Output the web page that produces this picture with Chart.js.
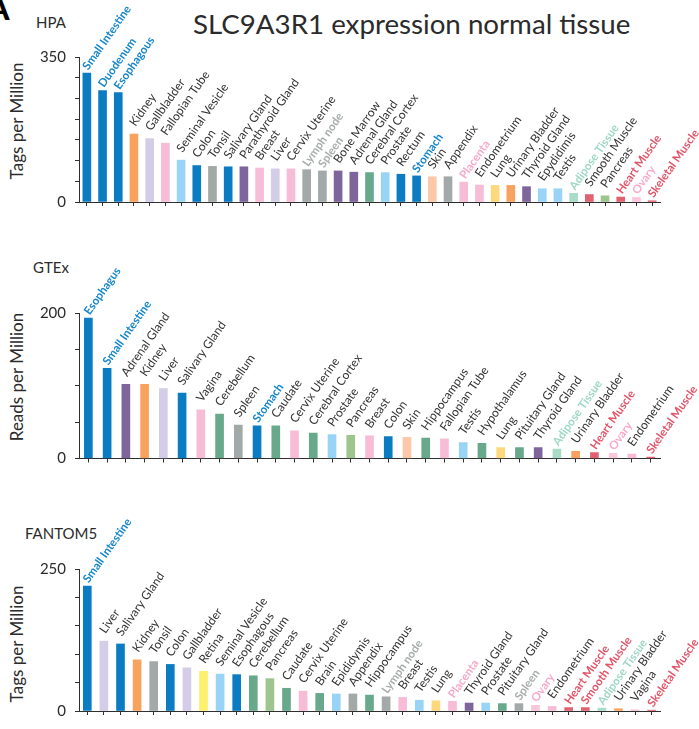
<!DOCTYPE html>
<html>
<head>
<meta charset="utf-8">
<script src="https://cdn.jsdelivr.net/npm/chart.js@4/dist/chart.umd.min.js"></script>
<style>
  html, body { margin: 0; padding: 0; background: #fff; }
  body { width: 699px; height: 729px; position: relative; overflow: hidden; font-family: Lato, "Open Sans", sans-serif; color: #2b2b2b; }
  canvas { position: absolute; left: 0; }
  .t { position: absolute; white-space: nowrap; }
  .ytitle { position: absolute; white-space: nowrap; font-size: 17px; line-height: 17px; transform: translate(-50%, -50%) rotate(-90deg); }
</style>
</head>
<body>
<div class="t" style="left:-14px;top:-10px;font-weight:700;font-size:34px;line-height:34px;color:#000;">A</div>
<div class="t" style="left:193px;top:10px;font-size:27.7px;line-height:28px;">SLC9A3R1 expression normal tissue</div>
<div class="t" style="left:36px;top:15px;font-size:15px;line-height:15px;">HPA</div>
<div class="t" style="left:33px;top:260px;font-size:15px;line-height:15px;">GTEx</div>
<div class="t" style="left:25px;top:526px;font-size:15px;line-height:15px;">FANTOM5</div>
<div class="ytitle" style="left:15.5px;top:121px;">Tags per Million</div>
<div class="ytitle" style="left:15.5px;top:377px;">Reads per Million</div>
<div class="ytitle" style="left:15.5px;top:644px;">Tags per Million</div>

<canvas id="hpa" width="699" height="240" style="top:0px;width:699px;height:240px;"></canvas>
<canvas id="gtex" width="699" height="240" style="top:245px;width:699px;height:240px;"></canvas>
<canvas id="fantom" width="699" height="239" style="top:490px;width:699px;height:239px;"></canvas>

<script>
// ---- HPA (tags per million) ----
const hpaTissues = ['Small Intestine','Duodenum','Esophagous','Kidney','Gallbladder','Fallopian Tube','Seminal Vesicle','Colon','Tonsil','Salivary Gland','Parathyroid Gland','Breast','Liver','Cervix Uterine','Lymph node','Spleen','Bone Marrow','Adrenal Gland','Cerebral Cortex','Prostate','Rectum','Stomach','Skin','Appendix','Placenta','Endometrium','Lung','Urinary Bladder','Thyroid Gland','Epydidimis','Testis','Adipose Tissue','Smooth Muscle','Pancreas','Heart Muscle','Ovary','Skeletal Muscle'];
const hpaValues = [311,269,264,164,153,142,101,88,86,85,85,82,80,80,78,75,75,72,71,71,67,63,61,61,48,41,40,40,37,32,32,21,18,15,12,11,3];
const hpaTickLabels = ['0','350'];

// ---- GTEx (reads per million) ----
const gtexTissues = ['Esophagus','Small Intestine','Adrenal Gland','Kidney','Liver','Salivary Gland','Vagina','Cerebellum','Spleen','Stomach','Caudate','Cervix Uterine','Cerebral Cortex','Prostate','Pancreas','Breast','Colon','Skin','Hippocampus','Fallopian Tube','Testis','Hypothalamus','Lung','Pituitary Gland','Thyroid Gland','Adipose Tissue','Urinary Bladder','Heart Muscle','Ovary','Endometrium','Skeletal Muscle'];
const gtexValues = [193,124,102,102,96,90,67,61,46,45,45,38,35,33,32,31,30,29,28,27,22,21,15,15,15,13,10,8,7,6,2];
const gtexTickLabels = ['0','200'];

// ---- FANTOM5 (tags per million) ----
const fantomTissues = ['Small Intestine','Liver','Salivary Gland','Kidney','Tonsil','Colon','Gallbladder','Retina','Seminal Vesicle','Esophagous','Cerebellum','Pancreas','Caudate','Cervix Uterine','Brain','Epididymis','Appendix','Hippocampus','Lymph node','Breast','Testis','Lung','Placenta','Thyroid Gland','Prostate','Pituitary Gland','Spleen','Ovary','Endometrium','Heart Muscle','Smooth Muscle','Adipose Tissue','Urinary Bladder','Vagina','Skeletal Muscle'];
const fantomValues = [220,123,118,90,87,82,76,70,65,64,62,57,40,35,31,30,30,28,25,24,19,18,17,14,14,13,13,10,8,6,6,5,4,2,1.5];
const fantomTickLabels = ['0','250'];

// Tissue group colours for the bars
const C = {
  blue: '#0b7cc2', orange: '#f8a25d', lavender: '#d4cde8', pink: '#f7bcd6', palePink: '#fbc7dc',
  lightBlue: '#99d4f6', gray: '#a3a9a8', purple: '#7e669d', green: '#68a88b', peach: '#fdc8aa',
  yellow: '#fed87c', brightYellow: '#fdf06c', lightGreen: '#9dc58d', mint: '#a8dcc9', red: '#e0616f'
};
const tissueColor = {
  'Small Intestine': C.blue, 'Duodenum': C.blue, 'Esophagous': C.blue, 'Esophagus': C.blue, 'Colon': C.blue,
  'Rectum': C.blue, 'Stomach': C.blue, 'Salivary Gland': C.blue,
  'Kidney': C.orange, 'Urinary Bladder': C.orange,
  'Gallbladder': C.lavender, 'Liver': C.lavender,
  'Fallopian Tube': C.pink, 'Breast': C.pink, 'Cervix Uterine': C.pink, 'Placenta': C.pink,
  'Endometrium': C.pink, 'Vagina': C.pink, 'Ovary': C.palePink,
  'Seminal Vesicle': C.lightBlue, 'Prostate': C.lightBlue, 'Epydidimis': C.lightBlue, 'Epididymis': C.lightBlue, 'Testis': C.lightBlue,
  'Tonsil': C.gray, 'Lymph node': C.gray, 'Spleen': C.gray, 'Appendix': C.gray,
  'Parathyroid Gland': C.purple, 'Bone Marrow': C.purple, 'Adrenal Gland': C.purple, 'Thyroid Gland': C.purple,
  'Cerebral Cortex': C.green, 'Cerebellum': C.green, 'Caudate': C.green, 'Hippocampus': C.green,
  'Hypothalamus': C.green, 'Pituitary Gland': C.green, 'Brain': C.green,
  'Skin': C.peach, 'Lung': C.yellow, 'Retina': C.brightYellow, 'Pancreas': C.lightGreen,
  'Adipose Tissue': C.mint, 'Smooth Muscle': C.red, 'Heart Muscle': C.red, 'Skeletal Muscle': C.red
};

// Highlighted label colours per panel (others are plain dark text)
const L = { blue: '#1787cc', gray: '#a9adad', pink: '#f7a9ca', mint: '#9fd8c4', red: '#e2566a' };
const hpaHighlight = {
  'Small Intestine': L.blue, 'Duodenum': L.blue, 'Esophagous': L.blue, 'Stomach': L.blue,
  'Lymph node': L.gray, 'Spleen': L.gray, 'Placenta': L.pink, 'Ovary': L.pink,
  'Adipose Tissue': L.mint, 'Heart Muscle': L.red, 'Skeletal Muscle': L.red
};
const gtexHighlight = {
  'Esophagus': L.blue, 'Small Intestine': L.blue, 'Stomach': L.blue,
  'Adipose Tissue': L.mint, 'Heart Muscle': L.red, 'Ovary': L.pink, 'Skeletal Muscle': L.red
};
const fantomHighlight = {
  'Small Intestine': L.blue, 'Lymph node': L.gray, 'Spleen': L.gray, 'Placenta': L.pink, 'Ovary': L.pink,
  'Heart Muscle': L.red, 'Smooth Muscle': L.red, 'Adipose Tissue': L.mint, 'Skeletal Muscle': L.red
};

const FONT = 'Lato, "Open Sans", sans-serif';
const AXIS = '#2f2f2f';
const ANGLE = 55 * Math.PI / 180;

// Writes each tissue name diagonally just above the top of its bar
const barNames = {
  id: 'barNames',
  afterDatasetsDraw(chart, args, opts) {
    const ctx = chart.ctx;
    const meta = chart.getDatasetMeta(0);
    const names = chart.data.labels;
    meta.data.forEach((bar, i) => {
      const hl = opts.highlight[names[i]];
      ctx.save();
      ctx.translate(bar.x + 1.5, bar.y - (hl ? 2.5 : 7));
      ctx.rotate(-ANGLE);
      ctx.font = hl ? '700 11.5px ' + FONT : '400 12px ' + FONT;
      ctx.fillStyle = hl || '#333333';
      ctx.textAlign = 'left';
      ctx.textBaseline = 'alphabetic';
      ctx.fillText(names[i], 0, 0);
      ctx.restore();
    });
  }
};

function drawPanel(id, tissues, values, tickLabels, highlight, top, bottom) {
  const yMax = Number(tickLabels[tickLabels.length - 1]);
  return new Chart(document.getElementById(id), {
    type: 'bar',
    data: {
      labels: tissues,
      datasets: [{
        data: values,
        backgroundColor: tissues.map(t => tissueColor[t]),
        borderWidth: 0,
        barThickness: 8
      }]
    },
    options: {
      responsive: false,
      animation: false,
      events: [],
      layout: { padding: { left: 0, right: 39, top: top, bottom: bottom } },
      plugins: { legend: { display: false }, tooltip: { enabled: false }, barNames: { highlight } },
      scales: {
        x: {
          type: 'category',
          offset: true,
          afterFit(s) { s.height = 10; },
          grid: { display: true, drawOnChartArea: false, drawTicks: true, tickLength: 4, offset: false, color: AXIS },
          border: { display: true, color: AXIS, width: 1 },
          ticks: { display: false, autoSkip: false }
        },
        y: {
          min: 0, max: yMax,
          afterFit(s) { s.width = 79; },
          grid: { display: true, drawOnChartArea: false, drawTicks: true, tickLength: 4, color: AXIS },
          border: { display: true, color: AXIS, width: 1 },
          ticks: {
            stepSize: 50, padding: 9, color: '#2b2b2b', autoSkip: false,
            font: { family: FONT, size: 15 },
            callback: v => tickLabels.includes(String(v)) ? String(v) : ''
          }
        }
      }
    },
    plugins: [barNames]
  });
}

drawPanel('hpa', hpaTissues, hpaValues, hpaTickLabels, hpaHighlight, 57, 28);
drawPanel('gtex', gtexTissues, gtexValues, gtexTickLabels, gtexHighlight, 68, 16.5);
drawPanel('fantom', fantomTissues, fantomValues, fantomTickLabels, fantomHighlight, 79, 4);
</script>
</body>
</html>
